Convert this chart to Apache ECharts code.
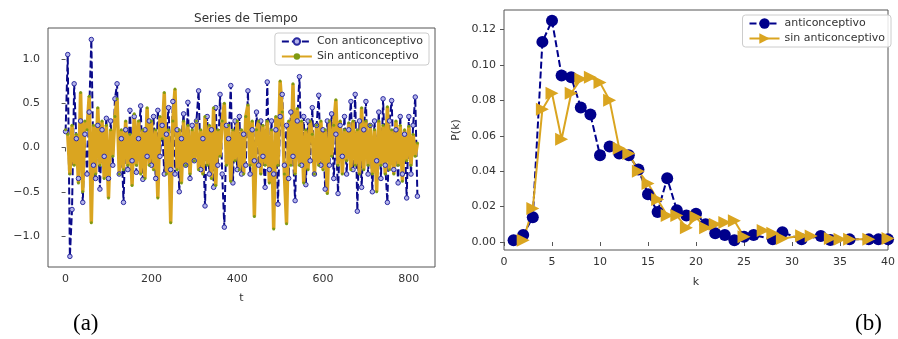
<!DOCTYPE html>
<html>
<head>
<meta charset="utf-8">
<script src="https://cdn.jsdelivr.net/npm/echarts@6/dist/echarts.min.js"></script>
<style>
  html, body { margin: 0; padding: 0; background: #fff; }
  #chart { width: 898px; height: 339px; }
</style>
</head>
<body>
<div id="chart"></div>
<script>
// (a) time series, one sample every tStep
const tStep = 5;
const conAnticonceptivo = [
  0.18, 1.05, -1.23, -0.70, 0.72, 0.10, -0.35, 0.30, -0.62, 0.15,
  -0.30, 0.40, 1.22, -0.20, -0.35, 0.25, -0.47, 0.20, -0.10, 0.33,
  -0.35, 0.30, -0.20, 0.55, 0.72, -0.30, 0.10, -0.62, 0.20, -0.25,
  0.42, -0.15, 0.35, -0.28, 0.10, 0.47, -0.36, 0.20, -0.10, 0.30,
  -0.20, 0.35, -0.35, 0.42, -0.10, 0.25, -0.30, 0.15, 0.45, -0.25,
  0.52, -0.30, 0.20, -0.50, 0.10, 0.38, -0.20, 0.51, -0.35, 0.25,
  -0.15, 0.30, 0.64, -0.25, 0.10, -0.66, 0.35, -0.30, 0.20, -0.45,
  0.45, -0.20, 0.60, -0.30, -0.90, 0.25, 0.10, 0.70, -0.40, 0.30,
  -0.25, 0.35, -0.30, 0.15, -0.20, 0.64, -0.30, 0.20, -0.15, 0.40,
  -0.20, 0.30, -0.10, -0.45, 0.74, -0.25, 0.30, -0.30, 0.20, -0.64,
  0.35, 0.60, -0.20, 0.25, -0.35, 0.40, -0.10, -0.60, 0.30, 0.80,
  -0.20, 0.35, -0.42, 0.30, -0.15, 0.45, -0.30, 0.25, 0.59, -0.20,
  0.20, -0.47, 0.30, -0.20, 0.38, -0.35, 0.15, -0.52, 0.25, -0.10,
  0.35, -0.30, 0.20, 0.52, -0.25, 0.60, -0.72, 0.30, -0.45, 0.20,
  0.52, -0.30, 0.25, -0.50, 0.30, -0.15, 0.40, -0.35, 0.55, -0.20,
  -0.62, 0.30, 0.53, -0.25, 0.20, -0.40, 0.35, -0.30, 0.15, -0.57,
  0.35, -0.30, 0.25, 0.57, -0.55
];
const sinAnticonceptivo = [
  0.20, 0.15, -0.30, 0.25, -0.20, 0.15, -0.40, 0.62, -0.50, 0.30,
  0.20, 0.58, -0.85, 0.25, -0.30, 0.45, -0.20, 0.30, -0.35, 0.25,
  -0.57, 0.20, -0.10, 0.35, 0.55, -0.30, 0.20, -0.25, 0.30, -0.20,
  0.15, -0.43, 0.38, -0.20, 0.30, -0.30, 0.20, -0.35, 0.45, -0.20,
  0.30, -0.25, 0.20, -0.57, 0.35, 0.10, 0.62, -0.30, 0.20, -0.85,
  0.30, 0.66, -0.25, 0.20, -0.40, 0.30, -0.20, 0.25, -0.30, 0.20,
  -0.15, 0.30, -0.25, 0.20, -0.30, 0.35, -0.20, 0.25, -0.35, 0.45,
  -0.43, 0.20, -0.10, 0.30, 0.50, -0.20, 0.25, -0.38, 0.20, -0.15,
  0.30, -0.25, 0.20, -0.30, 0.35, 0.48, -0.20, 0.30, -0.78, 0.20,
  0.30, -0.30, 0.25, -0.20, 0.30, -0.40, 0.20, -0.92, 0.35, -0.20,
  0.75, 0.40, -0.30, -0.86, 0.30, -0.20, 0.72, -0.30, 0.44, -0.20,
  0.30, -0.40, 0.20, -0.25, 0.30, 0.15, -0.30, 0.25, -0.20, 0.30,
  -0.25, 0.20, -0.52, 0.30, -0.10, 0.25, 0.54, -0.20, 0.30, -0.30,
  0.20, -0.15, 0.28, -0.25, 0.30, -0.20, 0.20, -0.30, 0.45, -0.25,
  0.30, -0.20, 0.25, -0.30, 0.20, -0.50, 0.30, -0.20, 0.25, -0.30,
  0.46, -0.25, 0.20, -0.30, 0.30, -0.20, 0.25, -0.38, 0.20, -0.15,
  0.24, -0.20, 0.15, -0.10, 0.05
];

// (b) degree distribution
const kAnti = [1, 2, 3, 4, 5, 6, 7, 8, 9, 10, 11, 12, 13, 14, 15, 16, 17, 18, 19, 20,
  21, 22, 23, 24, 25, 26, 28, 29, 31, 33, 34, 36, 38, 39, 40];
const pAnti = [0.001, 0.004, 0.014, 0.113, 0.125, 0.094, 0.093, 0.076, 0.072, 0.049,
  0.054, 0.050, 0.049, 0.041, 0.027, 0.017, 0.036, 0.018, 0.015, 0.016,
  0.010, 0.005, 0.004, 0.001, 0.003, 0.004, 0.0015, 0.0055, 0.0015, 0.0034,
  0.0012, 0.0015, 0.0015, 0.0015, 0.0015];
const kSin = [2, 3, 4, 5, 6, 7, 8, 9, 10, 11, 12, 13, 14, 15, 16, 17, 18, 19, 20,
  21, 22, 23, 24, 25, 27, 28, 29, 31, 32, 34, 35, 36, 38, 40];
const pSin = [0.001, 0.019, 0.075, 0.084, 0.058, 0.084, 0.092, 0.093, 0.090, 0.080,
  0.053, 0.050, 0.040, 0.033, 0.024, 0.015, 0.015, 0.008, 0.014,
  0.008, 0.010, 0.011, 0.012, 0.003, 0.0065, 0.005, 0.002, 0.0035, 0.0034,
  0.002, 0.0015, 0.0015, 0.0015, 0.002];

const tTicks = [0, 200, 400, 600, 800];
const vTicks = [-1, -0.5, 0, 0.5, 1];
const pTicks = [0, 0.02, 0.04, 0.06, 0.08, 0.10, 0.12];

const FONT = 'DejaVu Sans';
const TXT = '#333';
const FRAME = '#555';

const pairs = (xs, ys) => ys.map((y, i) => [xs[i], y]);
const series_t = (vals) => vals.map((v, i) => [i * tStep, v]);
const minus = (s) => s.replace('-', '\u2212');

const chart = echarts.init(document.getElementById('chart'), null, { renderer: 'canvas' });

const axisCommon = {
  axisLine: { show: false },
  axisTick: { show: true, length: 4, lineStyle: { color: FRAME } },
  splitLine: { show: false },
  axisLabel: { color: TXT, fontFamily: FONT, fontSize: 11 },
  nameTextStyle: { color: TXT, fontFamily: FONT, fontSize: 11 }
};

const legendCommon = {
  orient: 'vertical',
  backgroundColor: 'rgba(255,255,255,0.85)',
  borderColor: '#ccc',
  borderWidth: 1,
  borderRadius: 3,
  padding: [3, 6, 3, 6],
  itemGap: 4,
  itemWidth: 30,
  textStyle: { color: TXT, fontFamily: FONT, fontSize: 11 }
};

chart.setOption({
  animation: false,
  backgroundColor: '#fff',
  title: {
    text: 'Series de Tiempo',
    left: 241,
    top: 8,
    textAlign: 'center',
    textStyle: { color: TXT, fontFamily: FONT, fontSize: 12, fontWeight: 'normal' }
  },
  grid: [
    { left: 48, top: 28, width: 387, height: 239, show: true, borderColor: FRAME, borderWidth: 1, backgroundColor: 'transparent' },
    { left: 504, top: 10, width: 393, height: 240, show: true, borderColor: FRAME, borderWidth: 1, backgroundColor: 'transparent' }
  ],
  legend: [
    Object.assign({}, legendCommon, {
      right: 898 - 429, top: 33, itemHeight: 8,
      data: ['Con anticonceptivo', 'Sin anticonceptivo']
    }),
    Object.assign({}, legendCommon, {
      right: 7, top: 15, itemHeight: 13,
      data: ['anticonceptivo', 'sin anticonceptivo']
    })
  ],
  xAxis: [
    Object.assign({}, axisCommon, {
      type: 'value', gridIndex: 0, min: -41, max: 861,
      name: 't', nameLocation: 'middle', nameGap: 26,
      axisTick: Object.assign({}, axisCommon.axisTick, { customValues: tTicks }),
      axisLabel: Object.assign({}, axisCommon.axisLabel, { customValues: tTicks, margin: 7 })
    }),
    Object.assign({}, axisCommon, {
      type: 'value', gridIndex: 1, min: 0, max: 40, interval: 5,
      name: 'k', nameLocation: 'middle', nameGap: 27,
      axisLabel: Object.assign({}, axisCommon.axisLabel, { margin: 7 })
    })
  ],
  yAxis: [
    Object.assign({}, axisCommon, {
      type: 'value', gridIndex: 0, min: -1.35, max: 1.35,
      axisTick: Object.assign({}, axisCommon.axisTick, { customValues: vTicks }),
      axisLabel: Object.assign({}, axisCommon.axisLabel, {
        customValues: vTicks, margin: 8,
        formatter: (v) => minus(v.toFixed(1))
      })
    }),
    Object.assign({}, axisCommon, {
      type: 'value', gridIndex: 1, min: -0.0045, max: 0.131,
      name: 'P(k)', nameLocation: 'middle', nameGap: 42, nameRotate: 90,
      axisTick: Object.assign({}, axisCommon.axisTick, { customValues: pTicks }),
      axisLabel: Object.assign({}, axisCommon.axisLabel, {
        customValues: pTicks, margin: 8,
        formatter: (v) => v.toFixed(2)
      })
    })
  ],
  graphic: [
    { type: 'text', left: 73, top: 312, style: { text: '(a)', fill: '#000', font: '23px "Liberation Serif"' } },
    { type: 'text', left: 855, top: 312, style: { text: '(b)', fill: '#000', font: '23px "Liberation Serif"' } }
  ],
  series: [
    {
      name: 'Con anticonceptivo', type: 'line', xAxisIndex: 0, yAxisIndex: 0,
      data: series_t(conAnticonceptivo),
      symbol: 'circle', symbolSize: 4.5,
      lineStyle: { color: '#0a0a8a', width: 2, type: [7, 3] },
      itemStyle: { color: '#b4b4ea', borderColor: '#2a2aa0', borderWidth: 1 }
    },
    {
      name: 'Sin anticonceptivo', type: 'line', xAxisIndex: 0, yAxisIndex: 0,
      data: series_t(sinAnticonceptivo),
      symbol: 'circle', symbolSize: 3,
      lineStyle: { color: '#daa520', width: 3.5 },
      itemStyle: { color: '#7f9a12', borderWidth: 0 }
    },
    {
      name: 'anticonceptivo', type: 'line', xAxisIndex: 1, yAxisIndex: 1,
      data: pairs(kAnti, pAnti),
      symbol: 'circle', symbolSize: 12,
      lineStyle: { color: '#00008b', width: 2, type: [7, 3] },
      itemStyle: { color: '#00008b' }
    },
    {
      name: 'sin anticonceptivo', type: 'line', xAxisIndex: 1, yAxisIndex: 1,
      data: pairs(kSin, pSin),
      symbol: 'triangle', symbolSize: 13, symbolRotate: -90,
      lineStyle: { color: '#daa520', width: 2 },
      itemStyle: { color: '#daa520' }
    }
  ]
});
</script>
</body>
</html>
